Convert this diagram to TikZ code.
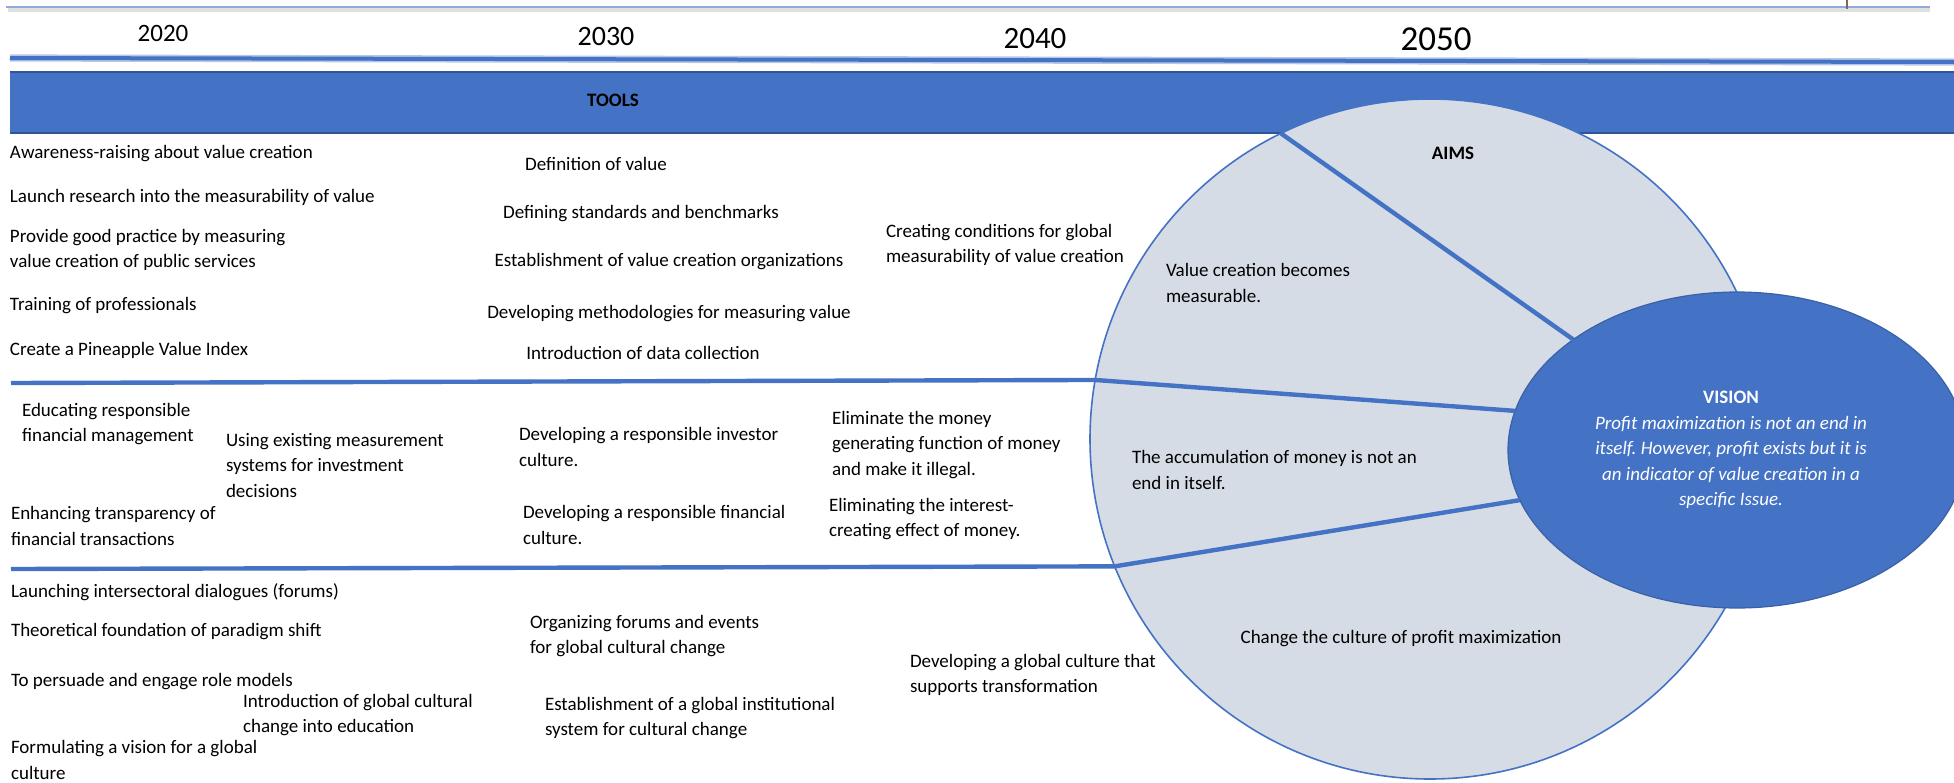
\documentclass[tikz,border=0pt]{standalone}
\usepackage{fontspec}
\setmainfont{Carlito}
\usetikzlibrary{shapes.geometric}
\definecolor{cblue}{HTML}{4472C4}
\definecolor{cdark}{HTML}{2F5597}
\definecolor{cgrey}{HTML}{D6DCE5}
\definecolor{clight}{HTML}{8FAADC}
\definecolor{chalo}{HTML}{B4C7E7}
\definecolor{ctick}{HTML}{7F6A5A}
\frenchspacing
\begin{document}
\begin{tikzpicture}[x=0.5pt,y=-0.5pt,
  txt/.style={inner sep=0pt, outer sep=0pt, anchor=west, align=left, text=black,
              font=\fontsize{9.5}{12.75}\selectfont},
  txtc/.style={txt, anchor=center, align=center},
  boldlab/.style={inner sep=0pt, outer sep=0pt, anchor=center, font=\fontsize{9.5}{12.75}\selectfont\bfseries},
  yr/.style={inner sep=0pt, outer sep=0pt, anchor=center},
  sepline/.style={draw=cblue, line width=2.2pt, line join=round},
]
\useasboundingbox (0,0) rectangle (1954,782);
\fill[white] (0,0) rectangle (1954,782);

% top thin rule and tick
\coordinate (topL) at (6,7);
\coordinate (topR) at (1930,7);
\draw[black!12, line width=2pt] (8,10) -- (1930,10);
\draw[clight, line width=1.3pt] (topL) -- (topR);
\coordinate (tickA) at (1847,0);
\coordinate (tickB) at (1847,9);
\draw[ctick, line width=0.8pt] (tickA) -- (tickB);

% years
\node[yr, font=\fontsize{12.5}{14}\selectfont] (y2020) at (163,33) {2020};
\node[yr, font=\fontsize{14}{16}\selectfont] (y2030) at (606,37) {2030};
\node[yr, font=\fontsize{15.5}{18}\selectfont] (y2040) at (1035,39) {2040};
\node[yr, font=\fontsize{17.5}{20}\selectfont] (y2050) at (1436,39) {2050};

% thick timeline rule
\coordinate (tlL) at (10,58);
\coordinate (tlR) at (1954,62);
\draw[chalo, line width=3.6pt] (tlL) -- (tlR);
\draw[cblue, line width=2pt] (tlL) -- (tlR);

% TOOLS band
\fill[cblue] (10,72) rectangle (1954,133);
\draw[cdark, line width=0.8pt] (10,72) -- (1954,72);
\draw[cdark, line width=0.8pt] (10,133) -- (1954,133);
\node[boldlab] (tools) at (613,100) {TOOLS};

% big AIMS circle
\node[circle, minimum size=340pt, inner sep=0pt, outer sep=0pt, fill=cgrey,
      draw=cblue, line width=0.8pt] (aims) at (1430,439) {};

% vision ellipse
\node[ellipse, minimum width=229pt, minimum height=158pt, inner sep=0pt, outer sep=0pt,
      fill=cblue, draw=cblue!85!black, line width=0.6pt] (vision) at (1737,450) {};

% separator lines
\coordinate (r2L) at (11,383);
\coordinate (r3L) at (11,569);
\draw[sepline] (aims.116) -- (vision.146);
\draw[sepline] (r2L) -- (aims.170) -- (vision.170);
\draw[sepline] (r3L) -- (aims.202) -- (vision.193);

% labels in circle
\node[boldlab] (aimslab) at (1453,153) {AIMS};
\node[txt] (a1) at (1166,283) {Value creation becomes\\measurable.};
\node[txt] (a2) at (1132,470) {The accumulation of money is not an\\end in itself.};
\node[txtc] (a3) at (1401,639) {Change the culture of profit maximization};

% vision text
\node[txtc, text=white] (visiontext) at (1731,450)
  {\textbf{VISION}\\\itshape Profit maximization is not an end in\\\itshape itself. However, profit exists but it is\\\itshape an indicator of value creation in a\\\itshape specific Issue.};

% row 1
\node[txt] (t11) at (10,154) {Awareness-raising about value creation};
\node[txt] (t12) at (10,197) {Launch research into the measurability of value};
\node[txt] (t13) at (10,250) {Provide good practice by measuring\\value creation of public services};
\node[txt] (t14) at (10,306) {Training of professionals};
\node[txt] (t15) at (10,350) {Create a Pineapple Value Index};
\node[txtc] (t21) at (596,164) {Definition of value};
\node[txtc] (t22) at (641,214) {Defining standards and benchmarks};
\node[txtc] (t23) at (669,262) {Establishment of value creation organizations};
\node[txtc] (t24) at (669,314) {Developing methodologies for measuring value};
\node[txtc] (t25) at (643,353) {Introduction of data collection};
\node[txt] (t31) at (886,245) {Creating conditions for global\\measurability of value creation};

% row 2
\node[txt] (m11) at (22,424) {Educating responsible\\financial management};
\node[txt] (m12) at (226,465) {Using existing measurement\\systems for investment\\decisions};
\node[txt] (m13) at (11,526) {Enhancing transparency of\\financial transactions};
\node[txt] (m21) at (519,447) {Developing a responsible investor\\culture.};
\node[txt] (m22) at (523,525) {Developing a responsible financial\\culture.};
\node[txt] (m31) at (832,445) {Eliminate the money\\generating function of money\\and make it illegal.};
\node[txt] (m32) at (829,519) {Eliminating the interest-\\creating effect of money.};

% row 3
\node[txt] (b11) at (11,592) {Launching intersectoral dialogues (forums)};
\node[txt] (b12) at (11,632) {Theoretical foundation of paradigm shift};
\node[txt] (b13) at (11,682) {To persuade and engage role models};
\node[txt] (b14) at (243,715) {Introduction of global cultural\\change into education};
\node[txt] (b15) at (11,760) {Formulating a vision for a global\\culture};
\node[txt] (b21) at (530,636) {Organizing forums and events\\for global cultural change};
\node[txt] (b22) at (545,718) {Establishment of a global institutional\\system for cultural change};
\node[txt] (b31) at (910,675) {Developing a global culture that\\supports transformation};
\end{tikzpicture}
\end{document}
